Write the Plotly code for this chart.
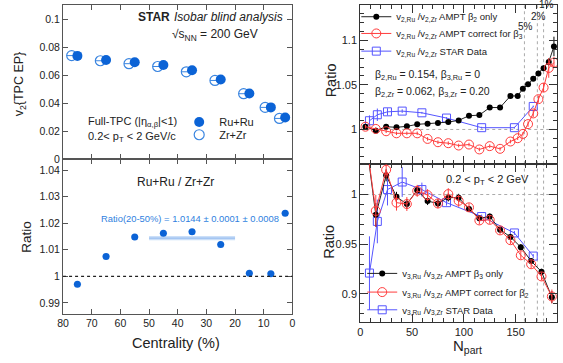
import plotly.graph_objects as go

# ---------------- data: left panels (STAR isobar v2 vs centrality) ----------------
centrality = [75, 65, 55, 45, 35, 25, 15, 7.5, 2.5]
v2_ru = [0.0741, 0.0711, 0.0695, 0.0676, 0.0638, 0.0572, 0.0471, 0.0372, 0.0300]
v2_zr = [0.0743, 0.0706, 0.0685, 0.0665, 0.0627, 0.0565, 0.0470, 0.0372, 0.0293]
ratio_ru_zr = [0.9970, 1.0075, 1.0148, 1.0162, 1.0168, 1.0120, 1.0012, 1.0010, 1.0238]
ratio_sys = [0.0004, 0.0003, 0.0003, 0.0003, 0.0003, 0.0003, 0.0003, 0.0003, 0.0004]
ratio_2050 = 1.0144
ratio_2050_sys = 0.0008
ratio_2050_range = [50, 20]
left_x_ticks = [80, 70, 60, 50, 40, 30, 20, 10, 0]

# ---------------- data: right upper (v2 ratio vs Npart) ----------------
npart_v2_ampt = [5, 15, 25, 35, 45, 55, 65, 75, 85, 95, 105, 115, 125, 135, 145,
                 152, 157, 162, 167, 172, 177, 182, 187]
v2_b2only = [1.0031, 0.9987, 1.0031, 1.0024, 1.0035, 1.0058, 1.0065, 1.0072, 1.0083,
             1.0102, 1.0154, 1.0161, 1.0246, 1.0246, 1.0376, 1.0376, 1.0457, 1.0506,
             1.0569, 1.0628, 1.0687, 1.0757, 1.0931]
v2_b2only_err = [0.002, 0.002, 0.0015, 0.0015, 0.0015, 0.0015, 0.0015, 0.0015, 0.0015,
                 0.0015, 0.0015, 0.0015, 0.0015, 0.0015, 0.002, 0.002, 0.002, 0.002,
                 0.0025, 0.003, 0.003, 0.004, 0.011]
v2_corr_b3 = [1.0031, 1.0006, 0.9980, 0.9957, 0.9957, 0.9957, 0.9894, 0.9857, 0.9846,
              0.9820, 0.9831, 0.9776, 0.9813, 0.9783, 0.9865, 0.9902, 0.9950, 1.0060,
              1.0180, 1.0340, 1.0470, 1.0690, 1.0750]
v2_corr_b3_err = [0.002, 0.002, 0.002, 0.002, 0.002, 0.002, 0.002, 0.002, 0.002, 0.002,
                  0.002, 0.002, 0.002, 0.002, 0.002, 0.002, 0.002, 0.003, 0.004, 0.004,
                  0.005, 0.011, 0.006]
npart_star = [8.9, 16.5, 26.3, 40.5, 59.5, 83.3, 117.2, 148.8, 167.0]
v2_star = [1.0098, 1.0165, 1.0198, 1.0206, 1.0187, 1.0128, 1.0020, 1.0020, 1.0258]
v2_star_err = [0.006, 0.007, 0.004, 0.002, 0.001, 0.001, 0.001, 0.001, 0.001]

# ---------------- data: right lower (v3 ratio vs Npart) ----------------
npart_v3_ampt = [5, 15, 25, 35, 45, 55, 65, 75, 85, 95, 105, 115, 125, 135, 145,
                 155, 165, 175, 185]
v3_b3only = [1.0600, 0.9795, 1.0193, 0.9977, 0.9904, 1.0044, 0.9934, 0.9910, 0.9970,
             0.9967, 0.9855, 0.9761, 0.9778, 0.9646, 0.9573, 0.9470, 0.9330, 0.9222, 0.8966]
v3_b3only_err = [0.010, 0.012, 0.006, 0.005, 0.005, 0.004, 0.004, 0.004, 0.004, 0.004,
                 0.003, 0.003, 0.003, 0.003, 0.003, 0.003, 0.003, 0.003, 0.006]
v3_corr_b2 = [1.0600, 0.9835, 1.0249, 0.9918, 0.9904, 1.0037, 0.9994, 0.9910, 1.0004,
              0.9937, 0.9871, 0.9739, 0.9745, 0.9639, 0.9540, 0.9388, 0.9298, 0.9175, 0.8973]
v3_corr_b2_err = [0.010, 0.016, 0.008, 0.008, 0.007, 0.006, 0.006, 0.005, 0.006, 0.006,
                  0.004, 0.004, 0.004, 0.004, 0.004, 0.004, 0.004, 0.004, 0.007]
v3_star = [0.9209, 0.9729, 1.0050, 1.0126, 1.0050, 0.9918, 0.9778, 0.9613, 0.9380]
v3_star_err = [0.037, 0.022, 0.016, 0.015, 0.007, 0.003, 0.002, 0.002, 0.002]

centrality_marks_npart = [158.5, 171, 177]
centrality_marks_label = ["5%", "2%", "1%"]

# ---------------- styling ----------------
W, H = 563, 363
FONT = "Liberation Sans, Arial, Helvetica, sans-serif"
BLUE = "#0b63d6"
BLUE_OPEN = "#3a85e0"
BOX_FILL = "rgba(120,170,235,0.45)"
RED = "#ff3c3c"
SBLUE = "#5555ff"
ZR_SHIFT = 2.0
BOX_HW = 1.3

def pxx(p):
    return p / W

def pxy(p):
    return 1 - p / H

fig = go.Figure()

# ---- left upper ----
fig.add_trace(go.Scatter(
    x=[c + ZR_SHIFT for c in centrality], y=v2_zr, mode="markers", name="Zr+Zr",
    xaxis="x", yaxis="y", legend="legend2",
    marker=dict(symbol="circle-open", size=10, color=BLUE_OPEN, line=dict(width=1.2)),
    error_x=dict(type="constant", value=1.7, width=0, thickness=1, color=BLUE_OPEN)))
fig.add_trace(go.Scatter(
    x=centrality, y=v2_ru, mode="markers", name="Ru+Ru",
    xaxis="x", yaxis="y", legend="legend",
    marker=dict(symbol="circle", size=10, color=BLUE)))

# ---- left lower ----
shapes = []
for c, r, s in zip(centrality, ratio_ru_zr, ratio_sys):
    shapes.append(dict(type="rect", xref="x2", yref="y2", x0=c - BOX_HW, x1=c + BOX_HW,
                       y0=r - s, y1=r + s, fillcolor=BOX_FILL, line=dict(width=0), layer="below"))
shapes.append(dict(type="rect", xref="x2", yref="y2", x0=ratio_2050_range[0], x1=ratio_2050_range[1],
                   y0=ratio_2050 - ratio_2050_sys, y1=ratio_2050 + ratio_2050_sys,
                   fillcolor="rgba(140,185,240,0.45)", line=dict(width=0), layer="below"))
shapes.append(dict(type="line", xref="x2", yref="y2", x0=ratio_2050_range[0], x1=ratio_2050_range[1],
                   y0=ratio_2050, y1=ratio_2050, line=dict(color="rgba(90,150,230,0.55)", width=1),
                   layer="below"))
shapes.append(dict(type="line", xref="x2 domain", yref="y2", x0=0, x1=1, y0=1, y1=1,
                   line=dict(color="#222", width=1.3, dash="dot")))
fig.add_trace(go.Scatter(
    x=centrality, y=ratio_ru_zr, mode="markers", showlegend=False,
    xaxis="x2", yaxis="y2", marker=dict(symbol="circle", size=7, color=BLUE)))

# ---- right panels: reference lines ----
for ya in ["y3", "y4"]:
    xa = "x3" if ya == "y3" else "x4"
    shapes.append(dict(type="line", xref=xa + " domain", yref=ya, x0=0, x1=1, y0=1, y1=1,
                       line=dict(color="#aaa", width=1, dash="dot"), layer="below"))
    for n in centrality_marks_npart:
        shapes.append(dict(type="line", xref=xa, yref=ya + " domain", x0=n, x1=n, y0=0, y1=1,
                           line=dict(color="#aaa", width=1, dash="dot"), layer="below"))

# ---- right upper ----
fig.add_trace(go.Scatter(
    x=npart_star, y=v2_star, mode="lines+markers", xaxis="x3", yaxis="y3", legend="legend5",
    name="v<sub>2,Ru</sub> /v<sub>2,Zr</sub> STAR Data",
    line=dict(color=SBLUE, width=1),
    marker=dict(symbol="square-open", size=8, color=SBLUE, line=dict(width=1)),
    error_y=dict(type="data", array=v2_star_err, width=0, thickness=1, color=SBLUE)))
fig.add_trace(go.Scatter(
    x=npart_v2_ampt, y=v2_b2only, mode="lines+markers", xaxis="x3", yaxis="y3", legend="legend3",
    name="v<sub>2,Ru</sub> /v<sub>2,Zr</sub> AMPT β<sub>2</sub> only",
    line=dict(color="#222", width=1),
    marker=dict(symbol="circle", size=6, color="#000"),
    error_y=dict(type="data", array=v2_b2only_err, width=0, thickness=1, color="#000")))
fig.add_trace(go.Scatter(
    x=npart_v2_ampt, y=v2_corr_b3, mode="lines+markers", xaxis="x3", yaxis="y3", legend="legend4",
    name="v<sub>2,Ru</sub> /v<sub>2,Zr</sub> AMPT correct for β<sub>3</sub>",
    line=dict(color=RED, width=1),
    marker=dict(symbol="circle-open", size=9, color=RED, line=dict(width=1)),
    error_y=dict(type="data", array=v2_corr_b3_err, width=0, thickness=1, color=RED)))

# ---- right lower ----
fig.add_trace(go.Scatter(
    x=npart_star, y=v3_star, mode="lines+markers", xaxis="x4", yaxis="y4", legend="legend8",
    name="v<sub>3,Ru</sub> /v<sub>3,Zr</sub> STAR Data",
    line=dict(color=SBLUE, width=1),
    marker=dict(symbol="square-open", size=8, color=SBLUE, line=dict(width=1)),
    error_y=dict(type="data", array=v3_star_err, width=0, thickness=1, color=SBLUE)))
fig.add_trace(go.Scatter(
    x=npart_v3_ampt, y=v3_b3only, mode="lines+markers", xaxis="x4", yaxis="y4", legend="legend6",
    name="v<sub>3,Ru</sub> /v<sub>3,Zr</sub> AMPT β<sub>3</sub> only",
    line=dict(color="#222", width=1),
    marker=dict(symbol="circle", size=6, color="#000"),
    error_y=dict(type="data", array=v3_b3only_err, width=0, thickness=1, color="#000")))
fig.add_trace(go.Scatter(
    x=npart_v3_ampt, y=v3_corr_b2, mode="lines+markers", xaxis="x4", yaxis="y4", legend="legend7",
    name="v<sub>3,Ru</sub> /v<sub>3,Zr</sub> AMPT correct for β<sub>2</sub>",
    line=dict(color=RED, width=1),
    marker=dict(symbol="circle-open", size=9, color=RED, line=dict(width=1)),
    error_y=dict(type="data", array=v3_corr_b2_err, width=0, thickness=1, color=RED)))

# ---------------- axes ----------------
def left_ax(**kw):
    d = dict(showgrid=False, zeroline=False, showline=True, linecolor="#555", linewidth=1.3,
             mirror="allticks", ticks="inside", ticklen=5, tickcolor="#555",
             tickfont=dict(size=10.5, color="#222"))
    d.update(kw)
    return d

def right_ax(**kw):
    d = dict(showgrid=False, zeroline=False, showline=True, linecolor="#333", linewidth=1,
             mirror="allticks", ticks="inside", ticklen=8, tickcolor="#333",
             tickfont=dict(size=11, color="#222"))
    d.update(kw)
    return d

LX = [pxx(58), pxx(291)]
RX = [pxx(360), pxx(560)]
fig.update_layout(
    xaxis=left_ax(domain=LX, anchor="y", range=[80, 0], tickmode="array", tickvals=left_x_ticks,
                  showticklabels=False),
    yaxis=left_ax(domain=[pxy(162), pxy(5)], anchor="x", range=[0, 0.1106], dtick=0.02, tick0=0),
    xaxis2=left_ax(domain=LX, anchor="y2", range=[80, 0], tickmode="array", tickvals=left_x_ticks),
    yaxis2=left_ax(domain=[pxy(319), pxy(162)], anchor="x2", range=[0.9859, 1.0441],
                   dtick=0.01, tick0=1),
    xaxis3=right_ax(domain=RX, anchor="y3", range=[0, 190], dtick=50, tick0=0, showticklabels=False,
                    minor=dict(dtick=10, ticklen=4, ticks="inside", tickcolor="#333")),
    yaxis3=right_ax(domain=[pxy(167), pxy(5)], anchor="x3", range=[0.961, 1.1397], dtick=0.05, tick0=1,
                    minor=dict(dtick=0.01, ticklen=4, ticks="inside", tickcolor="#333")),
    xaxis4=right_ax(domain=RX, anchor="y4", range=[0, 190], dtick=50, tick0=0,
                    minor=dict(dtick=10, ticklen=4, ticks="inside", tickcolor="#333")),
    yaxis4=right_ax(domain=[pxy(327), pxy(167)], anchor="x4", range=[0.872, 1.0305], dtick=0.05, tick0=1,
                    minor=dict(dtick=0.01, ticklen=4, ticks="inside", tickcolor="#333")),
)

# ---------------- legends (one entry each, placed row by row) ----------------
def leg(xp, yp, size):
    return dict(x=pxx(xp), y=pxy(yp), xanchor="left", yanchor="middle", bgcolor="rgba(0,0,0,0)",
                font=dict(size=size, color="#222"), itemsizing="trace", borderwidth=0)

fig.update_layout(
    legend=leg(176, 124, 11),
    legend2=leg(176, 137, 11),
    legend3=leg(356, 17, 9.5),
    legend4=leg(356, 34, 9.5),
    legend5=leg(356, 52, 9.5),
    legend6=leg(362, 278, 9.5),
    legend7=leg(362, 297, 9.5),
    legend8=leg(362, 315, 9.5),
)

# ---------------- text ----------------
def txt(x, y, s, size=11, color="#222", xanchor="left", angle=0):
    fig.add_annotation(x=pxx(x), y=pxy(y), xref="paper", yref="paper", text=s, showarrow=False,
                       font=dict(size=size, color=color, family=FONT), xanchor=xanchor,
                       yanchor="middle", textangle=angle, borderpad=0)

txt(133, 17, "<b>STAR</b>", 12)
txt(170, 17, "<i>Isobar blind analysis</i>", 12)
txt(168, 36, "√s<sub>NN</sub> = 200 GeV", 12)
txt(82, 124, "Full-TPC (|η<sub>α,β</sub>|&lt;1)", 11)
txt(82, 139, "0.2&lt; p<sub>T</sub> &lt; 2 GeV/c", 11)
txt(14, 85, "v<sub>2</sub>{TPC EP}", 12.5, xanchor="center", angle=-90)

txt(172, 185, "Ru+Ru / Zr+Zr", 12, xanchor="center")
txt(96, 222, "Ratio(20-50%) = 1.0144 ± 0.0001 ± 0.0008", 9.4, color="#2f7fe0")
txt(20, 241, "Ratio", 13.5, xanchor="center", angle=-90)
txt(173, 349, "Centrality (%)", 14.5, xanchor="center")

txt(374, 76, "β<sub>2,Ru</sub> = 0.154, β<sub>3,Ru</sub> = 0", 10.5)
txt(374, 94, "β<sub>2,Zr</sub> = 0.062, β<sub>3,Zr</sub> = 0.20", 10.5)
txt(330, 82, "Ratio", 14.5, xanchor="center", angle=-90)
txt(328, 246, "Ratio", 14.5, xanchor="center", angle=-90)
txt(446, 183, "0.2 &lt; p<sub>T</sub> &lt; 2 GeV", 11)
txt(469, 352, "N<sub>part</sub>", 15, xanchor="center")

label_pos = [(528, 27), (541, 17), (549, 5)]
for lab, (lx, ly) in zip(centrality_marks_label, label_pos):
    txt(lx, ly, lab, 10, xanchor="center")

fig.update_layout(
    width=W, height=H, margin=dict(l=0, r=0, t=0, b=0),
    paper_bgcolor="white", plot_bgcolor="white",
    font=dict(family=FONT, color="#222"),
    shapes=shapes,
)

fig.write_html("out.html", config={"displayModeBar": False},
               post_script="document.body.style.margin='0px';")
